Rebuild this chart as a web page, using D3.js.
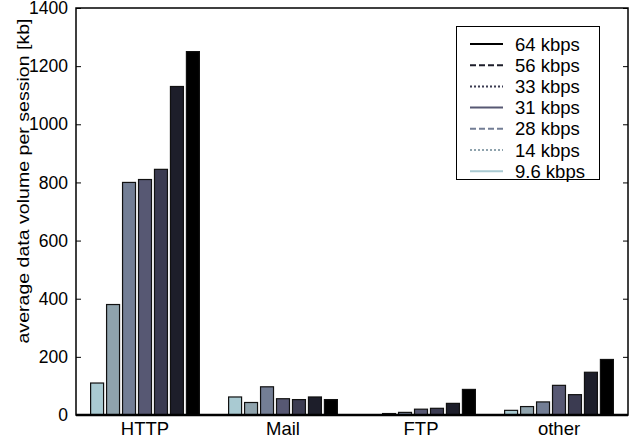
<!DOCTYPE html>
<html><head><meta charset="utf-8">
<script src="https://cdn.jsdelivr.net/npm/d3@7"></script>
<style>body{margin:0;background:#fff;} text{font-family:"Liberation Sans",Arial,sans-serif;}</style>
</head><body>
<svg id="c" width="629" height="444"></svg>
<script>
const categories = ["HTTP","Mail","FTP","other"];
const seriesNames = ["9.6 kbps","14 kbps","28 kbps","31 kbps","33 kbps","56 kbps","64 kbps"];
const seriesColors = ["#a9cad2","#8fa3ad","#737e95","#575873","#3b3b51","#1d1e2a","#000000"];
const seriesDash = ["","2,2","6,3","","2,2","6,3",""];
const v96  = [110, 62, 1, 16];
const v14  = [380, 43, 5, 29];
const v28  = [800, 97, 9, 45];
const v31  = [810, 56, 20, 102];
const v33  = [845, 53, 23, 70];
const v56  = [1130, 62, 40, 147];
const v64  = [1250, 53, 88, 191];
const seriesValues = [v96, v14, v28, v31, v33, v56, v64];
const yTicks = [0,200,400,600,800,1000,1200,1400];
const yLabel = "average data volume per session [kb]";

const svg = d3.select("#c");
const L = 76, R = 628, T = 8, B = 415;
const x0 = d3.scaleBand().domain(categories).range([L, R]);
const gw = x0.bandwidth() * 0.81, off = (x0.bandwidth() - gw) / 2;
const x1 = d3.scaleBand().domain(seriesNames).range([off, off + gw]).paddingInner(0.1875).paddingOuter(0.09375);
const y = d3.scaleLinear().domain([0, 1400]).range([B, T]);

categories.forEach((c, ci) => {
  const g = svg.append("g").attr("transform", `translate(${x0(c)},0)`);
  seriesNames.forEach((s, si) => {
    const val = seriesValues[si][ci];
    g.append("rect")
      .attr("x", x1(s)).attr("width", x1.bandwidth())
      .attr("y", y(val)).attr("height", B - y(val))
      .attr("fill", seriesColors[si]).attr("stroke", "#111").attr("stroke-width", 1.2);
  });
});

const ax = svg.append("g");
ax.append("rect").attr("x", L).attr("y", T).attr("width", R - L).attr("height", B - T)
  .attr("fill", "none").attr("stroke", "#000").attr("stroke-width", 1.5);
ax.append("line").attr("x1", L).attr("x2", R).attr("y1", B).attr("y2", B).attr("stroke", "#000").attr("stroke-width", 2.5);

const yAxis = d3.axisLeft(y).tickValues(yTicks).tickFormat(d3.format("d")).tickSizeInner(-5).tickSizeOuter(0).tickPadding(8);
const ya = svg.append("g").attr("transform", `translate(${L},0)`).call(yAxis);
ya.select(".domain").remove();
ya.selectAll("text").attr("font-size", 17.5).attr("fill", "#000").style("font-family", "Liberation Sans, Arial, sans-serif");
ya.selectAll("line").attr("stroke", "#000");
const yAxisR = d3.axisRight(y).tickValues(yTicks).tickSizeInner(-5).tickSizeOuter(0).tickFormat("");
const yr = svg.append("g").attr("transform", `translate(${R},0)`).call(yAxisR);
yr.select(".domain").remove();
yr.selectAll("line").attr("stroke", "#000");

const xAxis = d3.axisBottom(x0).tickSize(0).tickPadding(7);
const xa = svg.append("g").attr("transform", `translate(0,${B})`).call(xAxis);
xa.select(".domain").remove();
xa.selectAll("text").attr("font-size", 18.5).attr("fill", "#000").style("font-family", "Liberation Sans, Arial, sans-serif");

svg.append("text").attr("transform", `translate(29,181) rotate(-90)`)
  .attr("text-anchor", "middle").attr("font-size", 17)
  .attr("textLength", 325).attr("lengthAdjust", "spacingAndGlyphs").text(yLabel);

const lg = svg.append("g");
lg.append("rect").attr("x", 456.5).attr("y", 26.5).attr("width", 143).attr("height", 153)
  .attr("fill", "#fff").attr("stroke", "#000").attr("stroke-width", 1);
const order = d3.range(seriesNames.length).reverse();
order.forEach((si, k) => {
  const yy = 44 + k * 21.2;
  lg.append("line").attr("x1", 470).attr("x2", 503).attr("y1", yy).attr("y2", yy)
    .attr("stroke", seriesColors[si]).attr("stroke-width", 2).attr("stroke-dasharray", seriesDash[si]);
  lg.append("text").attr("x", 515).attr("y", yy + 6.5).attr("font-size", 18.5).text(seriesNames[si]);
});
</script>
</body></html>
